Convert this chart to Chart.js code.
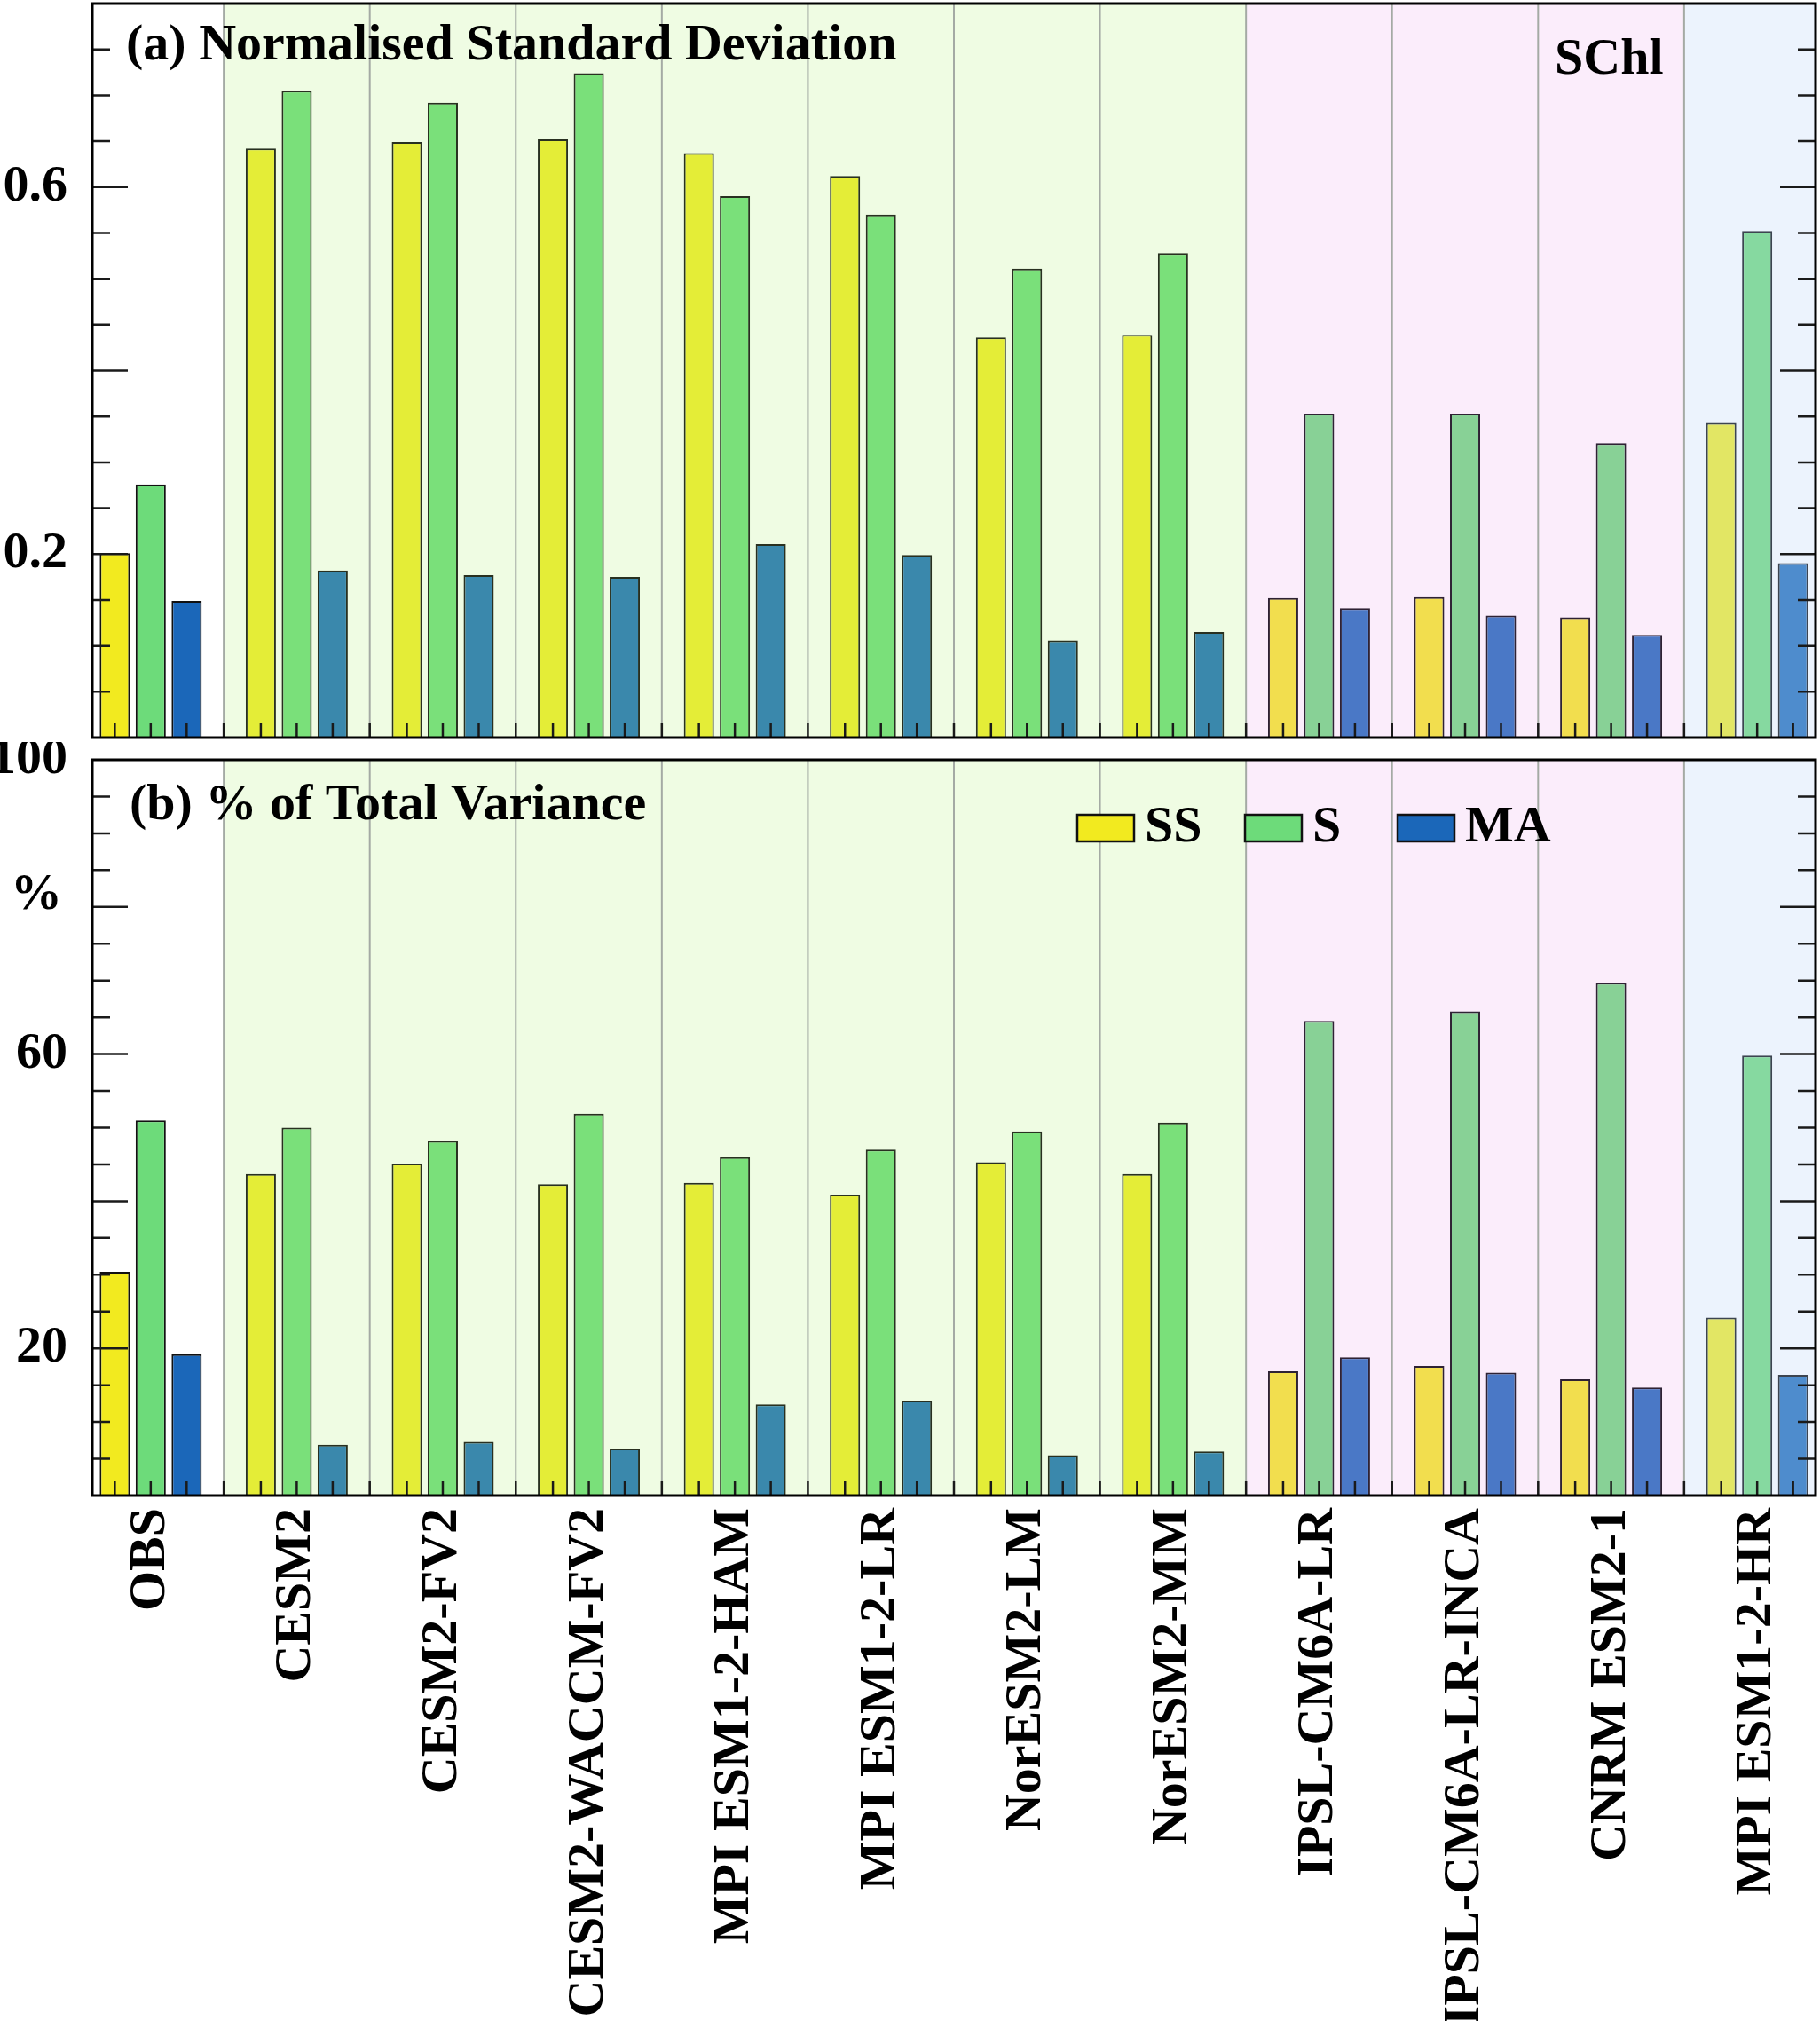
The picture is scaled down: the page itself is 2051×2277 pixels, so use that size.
<!DOCTYPE html>
<html>
<head>
<meta charset="utf-8">
<title>SChl variance decomposition</title>
<script src="https://cdn.jsdelivr.net/npm/chart.js@4.4.1/dist/chart.umd.min.js"></script>
<style>
  html, body { margin: 0; padding: 0; background: #fff; }
  #sdChart { position: absolute; left: 0; top: 0; }
  #varChart { position: absolute; left: 0; top: 836px; }
</style>
</head>
<body>
<canvas id="sdChart" width="2051" height="836"></canvas>
<canvas id="varChart" width="2051" height="1441"></canvas>
<script>
const models = ['OBS', 'CESM2', 'CESM2-FV2', 'CESM2-WACCM-FV2', 'MPI ESM1-2-HAM', 'MPI ESM1-2-LR',
                'NorESM2-LM', 'NorESM2-MM', 'IPSL-CM6A-LR', 'IPSL-CM6A-LR-INCA', 'CNRM ESM2-1', 'MPI ESM1-2-HR'];
const seriesNames = ['SS', 'S', 'MA'];

// (a) normalised standard deviation
const sdSS = [0.201, 0.642, 0.649, 0.652, 0.637, 0.612, 0.436, 0.439, 0.152, 0.153, 0.131, 0.343];
const sdS  = [0.276, 0.705, 0.692, 0.724, 0.590, 0.570, 0.511, 0.528, 0.353, 0.353, 0.321, 0.552];
const sdMA = [0.149, 0.182, 0.177, 0.175, 0.211, 0.199, 0.106, 0.115, 0.141, 0.133, 0.112, 0.190];

// (b) % of total variance
const pctSS = [30.4, 43.7, 45.1, 42.3, 42.5, 40.9, 45.3, 43.7, 16.9, 17.6, 15.8, 24.2];
const pctS  = [51.0, 50.0, 48.2, 51.9, 46.0, 47.0, 49.5, 50.7, 64.5, 65.8, 69.7, 59.8];
const pctMA = [19.2, 6.9, 7.3, 6.4, 12.4, 12.9, 5.5, 6.0, 18.8, 16.7, 14.7, 16.4];

// tick labels shown on the y axes (everything else is a bare tick)
const sdTickLabels = { '0.2': '0.2', '0.6': '0.6' };
const pctTickLabels = { '20': '20', '60': '60', '100': '100' };

// model families -> colours (0 obs, 1 CESM/MPI/Nor, 2 IPSL/CNRM, 3 MPI-HR)
const family = [0, 1, 1, 1, 1, 1, 1, 1, 2, 2, 2, 3];
const bgCols = [null, '#effce3', '#fbedfb', '#ecf3fd'];
const ssCols = ['#f2ea1f', '#e4ed37', '#f2de4e', '#e2e664'];
const sCols  = ['#6ddb7a', '#7ae07a', '#88d196', '#86d9a0'];
const maCols = ['#1b67b9', '#3a88ac', '#4a78c6', '#4e8ccd'];
const edgeCols = ['#111111', '#283020', '#2e2234', '#3c4450'];

const FONT = '"Liberation Serif", "Times New Roman", serif';
const byFamily = pal => family.map(f => pal[f]);

function makeDatasets(ss, s, ma) {
    return [ss, s, ma].map((vals, k) => ({
        label: seriesNames[k],
        data: vals.map((v, i) => ({ x: i, y: v })),
        backgroundColor: byFamily([ssCols, sCols, maCols][k]),
        borderColor: byFamily(edgeCols),
        borderWidth: 2,
        categoryPercentage: 0.738,
        barPercentage: 0.84
    }));
}

// backgrounds, separators, inward ticks, frame, titles, legend
const framePlugin = {
    id: 'frame',
    beforeDatasetsDraw(chart, args, opts) {
        const { ctx, chartArea: a } = chart;
        const x = chart.scales.x;
        ctx.save();
        models.forEach((m, i) => {
            const c = bgCols[family[i]];
            if (!c) return;
            const l = Math.max(a.left, x.getPixelForValue(i - 0.5));
            const r = Math.min(a.right, x.getPixelForValue(i + 0.5));
            ctx.fillStyle = c;
            ctx.fillRect(l, a.top, r - l, a.bottom - a.top);
        });
        ctx.strokeStyle = '#a4aaa4';
        ctx.lineWidth = 2;
        for (let i = 0; i < models.length - 1; i++) {
            const px = x.getPixelForValue(i + 0.5);
            ctx.beginPath();
            ctx.moveTo(px, a.top);
            ctx.lineTo(px, a.bottom);
            ctx.stroke();
        }
        ctx.restore();
    },
    afterDatasetsDraw(chart, args, opts) {
        const { ctx, chartArea: a } = chart;
        const x = chart.scales.x, y = chart.scales.y;
        ctx.save();
        ctx.strokeStyle = '#1a1a1a';
        ctx.lineWidth = 2.5;
        // short ticks up from the bottom axis at bars and at boundaries
        const xs = [];
        chart.data.datasets.forEach((d, k) => chart.getDatasetMeta(k).data.forEach(b => xs.push(b.x)));
        for (let i = 0; i < models.length - 1; i++) xs.push(x.getPixelForValue(i + 0.5));
        xs.forEach(px => {
            ctx.beginPath();
            ctx.moveTo(px, a.bottom);
            ctx.lineTo(px, a.bottom - 16);
            ctx.stroke();
        });
        // inward y ticks on both sides
        const n = Math.round((y.max - y.min) / opts.minor);
        for (let j = 1; j < n; j++) {
            const v = y.min + j * opts.minor;
            const py = y.getPixelForValue(v);
            const major = Math.abs(v / opts.major - Math.round(v / opts.major)) < 1e-6;
            const len = major ? 40 : 20;
            ctx.beginPath();
            ctx.moveTo(a.left, py); ctx.lineTo(a.left + len, py);
            ctx.moveTo(a.right, py); ctx.lineTo(a.right - len, py);
            ctx.stroke();
        }
        ctx.lineWidth = 3;
        ctx.strokeStyle = '#000';
        ctx.strokeRect(a.left, a.top, a.right - a.left, a.bottom - a.top);
        ctx.restore();
    },
    afterDraw(chart, args, opts) {
        const { ctx } = chart;
        ctx.save();
        ctx.fillStyle = '#000';
        ctx.font = 'bold 58px ' + FONT;
        ctx.textBaseline = 'alphabetic';
        (opts.texts || []).forEach(t => ctx.fillText(t.text, t.x, t.y));
        if (opts.legend) {
            chart.data.datasets.forEach((d, k) => {
                const lg = opts.legend[k];
                ctx.fillStyle = d.backgroundColor[0];
                ctx.fillRect(lg.x, lg.y, 64, 30);
                ctx.strokeStyle = '#111';
                ctx.lineWidth = 2.5;
                ctx.strokeRect(lg.x, lg.y, 64, 30);
                ctx.fillStyle = '#000';
                ctx.fillText(d.label, lg.x + 76, lg.y + 30);
            });
        }
        ctx.restore();
    }
};

function yAxis(max, step, labels) {
    return {
        min: 0, max: max,
        border: { display: false },
        grid: { display: false },
        afterFit: s => {
            s.width = 104;
            s.paddingTop = 0;
            s.paddingBottom = 0;
        },
        ticks: {
            stepSize: step,
            autoSkip: false,
            padding: 20,
            color: '#000',
            font: { family: FONT, size: 58, weight: 'bold' },
            callback: v => labels[String(Math.round(v * 100) / 100)] || ''
        }
    };
}

function xAxis(showLabels) {
    return {
        type: 'linear',
        min: -0.4, max: 11.4,
        offset: false,
        display: showLabels,
        border: { display: false },
        grid: { display: false },
        afterBuildTicks: s => { s.ticks = models.map((m, i) => ({ value: i })); },
        afterFit: s => {
            if (showLabels) s.height = 592;
            s.paddingLeft = 0;
            s.paddingRight = 0;
        },
        ticks: {
            autoSkip: false,
            maxRotation: 90,
            minRotation: 90,
            padding: 6,
            color: '#000',
            font: { family: FONT, size: 58, weight: 'bold' },
            callback: v => models[v] || ''
        }
    };
}

new Chart(document.getElementById('sdChart'), {
    type: 'bar',
    data: { datasets: makeDatasets(sdSS, sdS, sdMA) },
    plugins: [framePlugin],
    options: {
        responsive: false,
        devicePixelRatio: 1,
        animation: false,
        layout: { padding: { left: 0, right: 5, top: 4, bottom: 5 } },
        scales: { x: xAxis(false), y: yAxis(0.8, 0.05, sdTickLabels) },
        plugins: {
            legend: { display: false },
            tooltip: { enabled: false },
            frame: {
                minor: 0.05, major: 0.2,
                texts: [
                    { text: '(a) Normalised Standard Deviation', x: 142, y: 67 },
                    { text: 'SChl', x: 1752, y: 83 }
                ]
            }
        }
    }
});

new Chart(document.getElementById('varChart'), {
    type: 'bar',
    data: { datasets: makeDatasets(pctSS, pctS, pctMA) },
    plugins: [framePlugin],
    options: {
        responsive: false,
        devicePixelRatio: 1,
        animation: false,
        layout: { padding: { left: 0, right: 5, top: 20, bottom: 0 } },
        scales: { x: xAxis(true), y: yAxis(100, 5, pctTickLabels) },
        plugins: {
            legend: { display: false },
            tooltip: { enabled: false },
            frame: {
                minor: 5, major: 20,
                texts: [
                    { text: '(b) % of Total Variance', x: 146, y: 87 },
                    { text: '%', x: 12, y: 188 }
                ],
                legend: [
                    { x: 1214, y: 82 },
                    { x: 1403, y: 82 },
                    { x: 1575, y: 82 }
                ]
            }
        }
    }
});
</script>
</body>
</html>
